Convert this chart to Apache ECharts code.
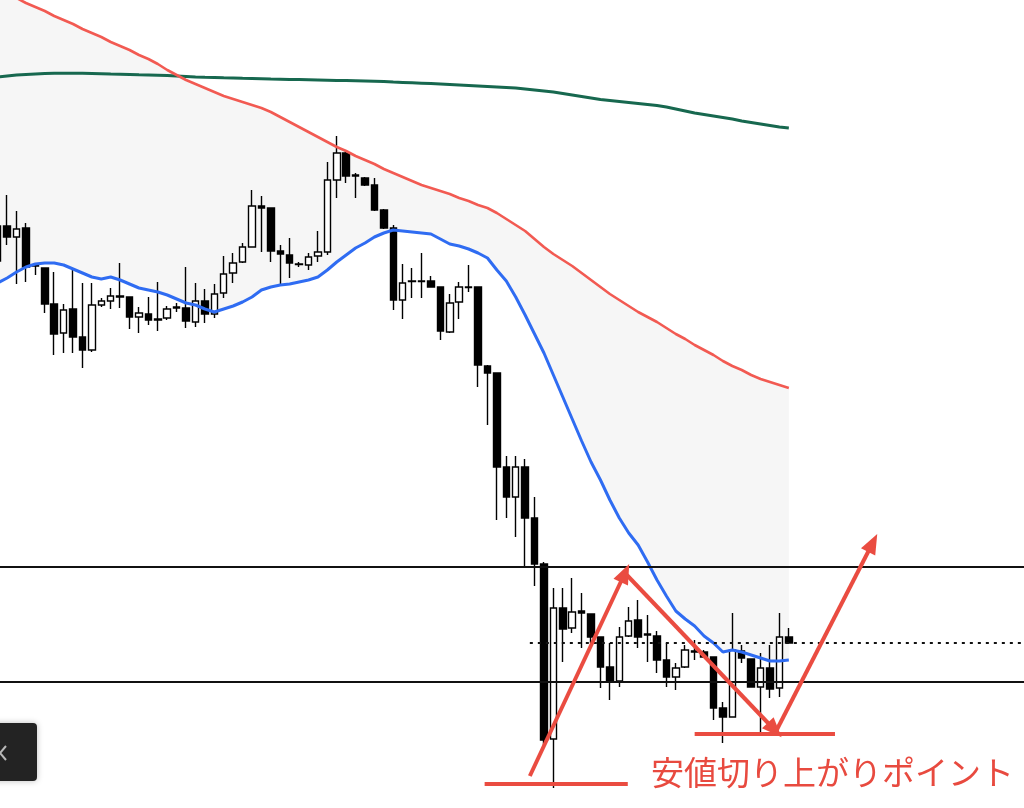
<!DOCTYPE html>
<html><head><meta charset="utf-8">
<script src="https://cdn.jsdelivr.net/npm/echarts@6/dist/echarts.min.js"></script>
<style>html,body{margin:0;padding:0;background:#fff}#c{width:1024px;height:808px}</style>
</head><body><div id="c"></div>
<script>
// ---- data ----
const barCount = 110; // visible slots incl. empty future area
const categories = Array.from({length: barCount}, (_, i) => String(i + 1));
// [open, close, low, high]
const candles = [
[149.74,149.39,149.35,149.85],[149.74,149.63,149.55,150.05],[149.63,149.71,149.16,149.89],[149.72,149.33,149.18,149.77],
[149.35,149.34,149.25,149.37],[149.32,148.96,148.87,149.32],[148.96,148.66,148.45,149.28],[148.67,148.90,148.47,148.96],
[148.91,148.63,148.47,149.32],[148.63,148.50,148.32,149.17],[148.50,148.95,148.48,149.17],[148.95,148.99,148.93,149.02],
[148.99,149.04,148.91,149.12],[149.04,149.03,148.92,149.37],[149.03,148.83,148.71,149.03],[148.83,148.87,148.67,148.93],
[148.86,148.80,148.75,149.03],[148.81,148.80,148.69,149.18],[148.82,148.91,148.80,148.94],[148.93,148.92,148.88,148.97],
[148.92,148.79,148.72,149.33],[148.78,148.99,148.73,149.17],[148.99,148.86,148.77,149.11],[148.86,149.06,148.82,149.16],
[149.07,149.26,149.02,149.44],[149.27,149.37,149.17,149.47],[149.38,149.53,149.37,149.57],[149.53,149.94,149.53,150.10],
[149.94,149.92,149.48,150.04],[149.92,149.49,149.38,149.92],[149.49,149.46,149.15,149.55],[149.45,149.37,149.22,149.62],
[149.36,149.355,149.33,149.38],[149.35,149.43,149.30,149.47],[149.44,149.48,149.38,149.69],[149.48,150.20,149.45,150.38],
[150.20,150.47,150.02,150.64],[150.47,150.24,150.17,150.50],[150.25,150.24,150.02,150.27],[150.22,150.15,150.14,150.23],
[150.15,149.90,149.89,150.22],[149.90,149.72,149.71,149.91],[149.72,149.00,148.90,149.75],[149.00,149.17,148.81,149.36],
[149.19,149.185,149.02,149.32],[149.19,149.185,149.02,149.47],[149.19,149.13,149.13,149.24],[149.13,148.69,148.60,149.13],
[148.68,148.97,148.67,149.06],[148.98,149.13,148.81,149.18],[149.13,149.125,149.08,149.35],[149.13,148.35,148.13,149.13],
[148.34,148.27,147.75,148.35],[148.27,147.33,146.80,148.27],[147.33,147.03,146.82,147.44],[147.03,147.33,146.63,147.44],
[147.33,146.82,146.33,147.41],[146.82,146.36,146.14,147.03],[146.36,144.60,144.55,146.38],[144.61,145.92,144.12,146.12],
[145.92,145.71,145.38,146.12],[145.72,145.88,145.67,146.22],[145.89,145.87,145.52,146.07],[145.86,145.63,145.57,145.86],
[145.63,145.33,145.12,145.63],[145.33,145.19,145.00,145.57],[145.19,145.63,145.13,145.73],[145.64,145.79,145.63,145.93],
[145.80,145.63,145.52,146.00],[145.66,145.65,145.38,145.85],[145.64,145.40,145.27,145.69],[145.40,145.23,145.13,145.57],
[145.23,145.32,145.10,145.37],[145.33,145.50,145.32,145.55],[145.49,145.48,145.40,145.60],[145.48,145.43,145.42,145.50],
[145.43,144.92,144.80,145.43],[144.92,144.83,144.57,144.98],[144.83,145.50,144.83,145.87],[145.49,145.42,145.37,145.55],
[145.41,145.13,145.13,145.41],[145.13,145.32,144.65,145.47],[145.32,145.11,145.02,145.55],[145.12,145.63,145.03,145.87],
[145.63,145.57,145.57,145.72]
];
// blue: short moving average
const maShort = [149.17,149.22,149.28,149.33,149.36,149.37,149.37,149.35,149.31,149.27,149.23,149.21,149.23,149.20,149.16,149.12,149.10,149.08,149.05,149.01,
148.97,148.95,148.91,148.88,148.91,148.94,148.98,149.03,149.10,149.13,149.15,149.16,149.18,149.20,149.23,149.30,149.38,149.45,149.52,149.57,
149.63,149.67,149.70,149.69,149.68,149.67,149.66,149.61,149.56,149.54,149.51,149.47,149.42,149.30,149.19,149.03,148.85,148.66,148.47,148.25,
148.03,147.81,147.59,147.38,147.20,147.00,146.82,146.67,146.55,146.38,146.20,146.04,145.89,145.81,145.74,145.64,145.57,145.48,145.50,145.48,
145.45,145.42,145.39,145.39,145.40];
// red: medium moving average
const maMid = [152.10,152.06,152.02,151.97,151.93,151.89,151.84,151.80,151.76,151.71,151.67,151.63,151.58,151.54,151.50,151.45,151.41,151.36,151.30,151.25,
151.20,151.16,151.12,151.08,151.04,151.01,150.98,150.95,150.92,150.88,150.83,150.78,150.73,150.68,150.63,150.58,150.53,150.49,150.44,150.40,
150.36,150.31,150.27,150.23,150.19,150.15,150.12,150.09,150.06,150.02,149.99,149.95,149.92,149.87,149.81,149.75,149.69,149.61,149.53,149.46,
149.40,149.34,149.27,149.20,149.13,149.06,149.00,148.94,148.88,148.83,148.78,148.72,148.66,148.61,148.55,148.50,148.45,148.39,148.34,148.30,
148.25,148.21,148.18,148.15,148.12];
// green: long moving average
const maLong = [151.23,151.24,151.25,151.255,151.26,151.265,151.267,151.268,151.268,151.267,151.265,151.263,151.26,151.258,151.255,151.252,151.25,151.247,151.244,151.24,
151.235,151.23,151.227,151.225,151.222,151.22,151.217,151.215,151.213,151.21,151.208,151.206,151.204,151.202,151.20,151.198,151.196,151.194,151.192,151.19,
151.188,151.185,151.18,151.176,151.172,151.168,151.164,151.16,151.155,151.15,151.145,151.14,151.135,151.13,151.125,151.12,151.11,151.10,151.09,151.08,
151.065,151.05,151.035,151.02,151.005,150.995,150.985,150.975,150.965,150.955,150.945,150.93,150.91,150.89,150.87,150.855,150.84,150.825,150.81,150.79,
150.775,150.76,150.745,150.73,150.72];
const rangeLevels = [146.33, 145.18];          // solid horizontal lines
const midLevel = 145.57;                         // dotted line
const midLevelFrom = 56.5;                       // bar index where dotted line starts
// hand-drawn annotations, as [barIndex, price]
const supportMarks = [[[51.7,144.16],[66.9,144.16]], [[74.0,144.66],[88.9,144.66]]];
const arrowMarks = [[[56.5,144.24],[66.6,146.27]], [[66.8,146.25],[82.5,144.70]], [[82.6,144.68],[92.9,146.57]]];
const noteText = '安値切り上がりポイント';
const priceMin = 143.92, priceMax = 152.00;

// ---- chart ----
const chart = echarts.init(document.getElementById('c'), null, {renderer: 'canvas'});
const bandDiff = maMid.map((v, i) => +(v - maShort[i]).toFixed(3));
const ANN = '#ea4c41';

const series = [
  {type: 'line', data: maShort, stack: 'band', symbol: 'none', silent: true, z: 1,
   lineStyle: {opacity: 0}},
  {type: 'line', data: bandDiff, stack: 'band', symbol: 'none', silent: true, z: 1,
   lineStyle: {opacity: 0}, areaStyle: {color: '#f6f6f6', opacity: 1}},
  {type: 'candlestick', data: candles, barWidth: 7, z: 3,
   itemStyle: {color: '#ffffff', color0: '#000000', borderColor: '#000000', borderColor0: '#000000', borderWidth: 1.4},
   markLine: {silent: true, symbol: 'none', label: {show: false},
     lineStyle: {color: '#111', width: 2, type: 'solid'},
     data: rangeLevels.map(v => ({yAxis: v}))}},
  {type: 'line', data: maLong, symbol: 'none', z: 4, lineStyle: {color: '#17684f', width: 3}},
  {type: 'line', data: maShort, symbol: 'none', z: 4, lineStyle: {color: '#2f6cf2', width: 3}},
  {type: 'line', data: maMid, symbol: 'none', z: 4, lineStyle: {color: '#f25a52', width: 2.6}},
  {type: 'line', xAxisIndex: 1, data: [[midLevelFrom, midLevel], [barCount - 0.5, midLevel]], symbol: 'none', z: 5,
   lineStyle: {color: '#111', width: 2, type: [3, 5]},
   markLine: {silent: true, z: 10, label: {show: false}, symbol: ['none', 'triangle'], symbolSize: [16, 20],
     lineStyle: {color: ANN, width: 4, type: 'solid', opacity: 1},
     data: arrowMarks.map(a => [{coord: a[0]}, {coord: a[1]}])}}
];
supportMarks.forEach(s => series.push({type: 'line', xAxisIndex: 1, data: s, symbol: 'none', z: 9,
  lineStyle: {color: ANN, width: 4}}));

chart.setOption({
  animation: false,
  backgroundColor: '#ffffff',
  grid: {left: -7, right: -5, top: 0, bottom: 0, containLabel: false, outerBoundsMode: 'none'},
  xAxis: [
    {type: 'category', data: categories, boundaryGap: true, show: false},
    {type: 'value', min: -0.5, max: barCount - 0.5, show: false}
  ],
  yAxis: {type: 'value', min: priceMin, max: priceMax, show: false, splitLine: {show: false}},
  series: series,
  graphic: [
    {type: 'rect', z: 100, shape: {x: -10, y: 723, width: 47, height: 58, r: 4},
     style: {fill: '#232323', shadowBlur: 6, shadowColor: 'rgba(0,0,0,0.25)'}},
    {type: 'polyline', z: 101, shape: {points: [[6, 746], [0, 753], [6, 760]]},
     style: {stroke: '#b8b8b8', lineWidth: 2, fill: null}},
    {type: 'text', z: 100, x: 651, y: 772,
     style: {text: noteText, fill: '#e84a3f', font: '33px "Noto Sans CJK JP"', verticalAlign: 'middle', align: 'left'}}
  ]
});
</script></body></html>
